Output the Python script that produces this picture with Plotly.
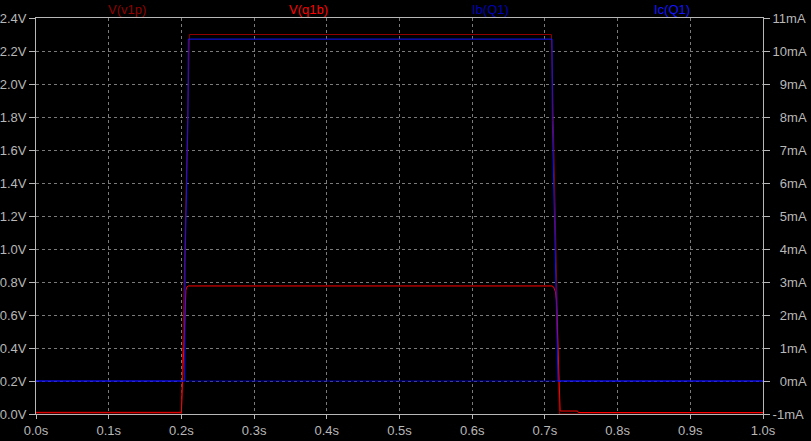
import plotly.graph_objects as go

# ---- data ----
t_v1p = [0.0, 0.2, 0.211, 0.709, 0.72, 1.0]
v_v1p = [0.0, 0.0, 2.3, 2.3, 0.0, 0.0]

t_q1b = [0.0, 0.2, 0.2062, 0.2075, 0.2094, 0.7098, 0.712, 0.7145, 0.7158, 0.7204, 0.721, 0.745, 0.746, 1.0]
v_q1b = [0.010, 0.010, 0.75, 0.77, 0.776, 0.776, 0.77, 0.74, 0.69, 0.067, 0.018, 0.018, 0.009, 0.009]

t_ib = [0.0, 0.2, 0.21, 0.71, 0.72, 1.0]
i_ib = [0.0, 0.0, 0.02, 0.02, 0.0, 0.0]  # mA

t_ic = [0.0, 0.2046, 0.2051, 0.209, 0.2095, 0.7098, 0.7102, 0.7149, 0.718, 1.0]
i_ic = [0.0, 0.0, 3.6, 7.9, 10.36, 10.36, 7.9, 3.36, 0.0, 0.0]  # mA

trace_names = ["V(v1p)", "V(q1b)", "Ib(Q1)", "Ic(Q1)"]
trace_colors = ["#900000", "#ff0000", "#0000b4", "#1414ff"]

x_ticks = [0.0, 0.1, 0.2, 0.3, 0.4, 0.5, 0.6, 0.7, 0.8, 0.9, 1.0]
x_ticktext = ["0.0s", "0.1s", "0.2s", "0.3s", "0.4s", "0.5s", "0.6s", "0.7s", "0.8s", "0.9s", "1.0s"]
v_ticks = [0.0, 0.2, 0.4, 0.6, 0.8, 1.0, 1.2, 1.4, 1.6, 1.8, 2.0, 2.2, 2.4]
v_ticktext = ["0.0V", "0.2V", "0.4V", "0.6V", "0.8V", "1.0V", "1.2V", "1.4V", "1.6V", "1.8V", "2.0V", "2.2V", "2.4V"]
i_ticks = [-1, 0, 1, 2, 3, 4, 5, 6, 7, 8, 9, 10, 11]
i_ticktext = ["-1mA", "\u20070mA", "\u20071mA", "\u20072mA", "\u20073mA", "\u20074mA", "\u20075mA",
              "\u20076mA", "\u20077mA", "\u20078mA", "\u20079mA", "10mA", "11mA"]

FONT = "Liberation Sans, Arial, sans-serif"
AXC = "#b8b8b8"
GRIDC = "#7a7a7a"

fig = go.Figure()
fig.add_trace(go.Scatter(x=t_v1p, y=v_v1p, mode="lines", name=trace_names[0],
                         line=dict(color=trace_colors[0], width=1), yaxis="y"))
fig.add_trace(go.Scatter(x=t_q1b, y=v_q1b, mode="lines", name=trace_names[1],
                         line=dict(color=trace_colors[1], width=1), yaxis="y"))
fig.add_trace(go.Scatter(x=t_ib, y=i_ib, mode="lines", name=trace_names[2],
                         line=dict(color=trace_colors[2], width=1), yaxis="y2"))
fig.add_trace(go.Scatter(x=t_ic, y=i_ic, mode="lines", name=trace_names[3],
                         line=dict(color=trace_colors[3], width=1), yaxis="y2"))

annotations = []
for k, (nm, c) in enumerate(zip(trace_names, trace_colors)):
    annotations.append(dict(text=nm, x=(k + 0.5) / 4, xref="paper", y=1, yref="paper",
                            yshift=9, yanchor="middle", xanchor="center", showarrow=False,
                            font=dict(family=FONT, size=13, color=c)))

fig.update_layout(
    width=811, height=441,
    margin=dict(l=36, r=48, t=18, b=27, autoexpand=False),
    paper_bgcolor="#000000", plot_bgcolor="#000000",
    showlegend=False,
    annotations=annotations,
    font=dict(family=FONT, size=13, color=AXC),
    xaxis=dict(range=[0, 1], tickvals=x_ticks, ticktext=x_ticktext, automargin=False,
               showline=True, linecolor=AXC, linewidth=1, mirror=True,
               ticks="outside", ticklen=4, tickcolor=AXC,
               showgrid=True, gridcolor=GRIDC, gridwidth=1, griddash="3px,3px",
               zeroline=False, tickfont=dict(family=FONT, size=13, color=AXC)),
    yaxis=dict(range=[0, 2.4], tickvals=v_ticks, ticktext=v_ticktext, automargin=False,
               showline=True, linecolor=AXC, linewidth=1,
               ticks="outside", ticklen=6, tickcolor=AXC,
               showgrid=True, gridcolor=GRIDC, gridwidth=1, griddash="3px,3px",
               zeroline=False, tickfont=dict(family=FONT, size=13, color=AXC)),
    yaxis2=dict(range=[-1, 11], tickvals=i_ticks, ticktext=i_ticktext, automargin=False,
                overlaying="y", side="right",
                showline=True, linecolor=AXC, linewidth=1,
                ticks="outside", ticklen=6, tickcolor=AXC,
                showgrid=False, zeroline=False,
                tickfont=dict(family=FONT, size=13, color=AXC)),
)

# remove the default page margin so the figure sits at the window's corner
fig.write_html("out.html",
               config={"displayModeBar": False},
               post_script="document.body.style.margin='0';document.body.style.background='#000';")
